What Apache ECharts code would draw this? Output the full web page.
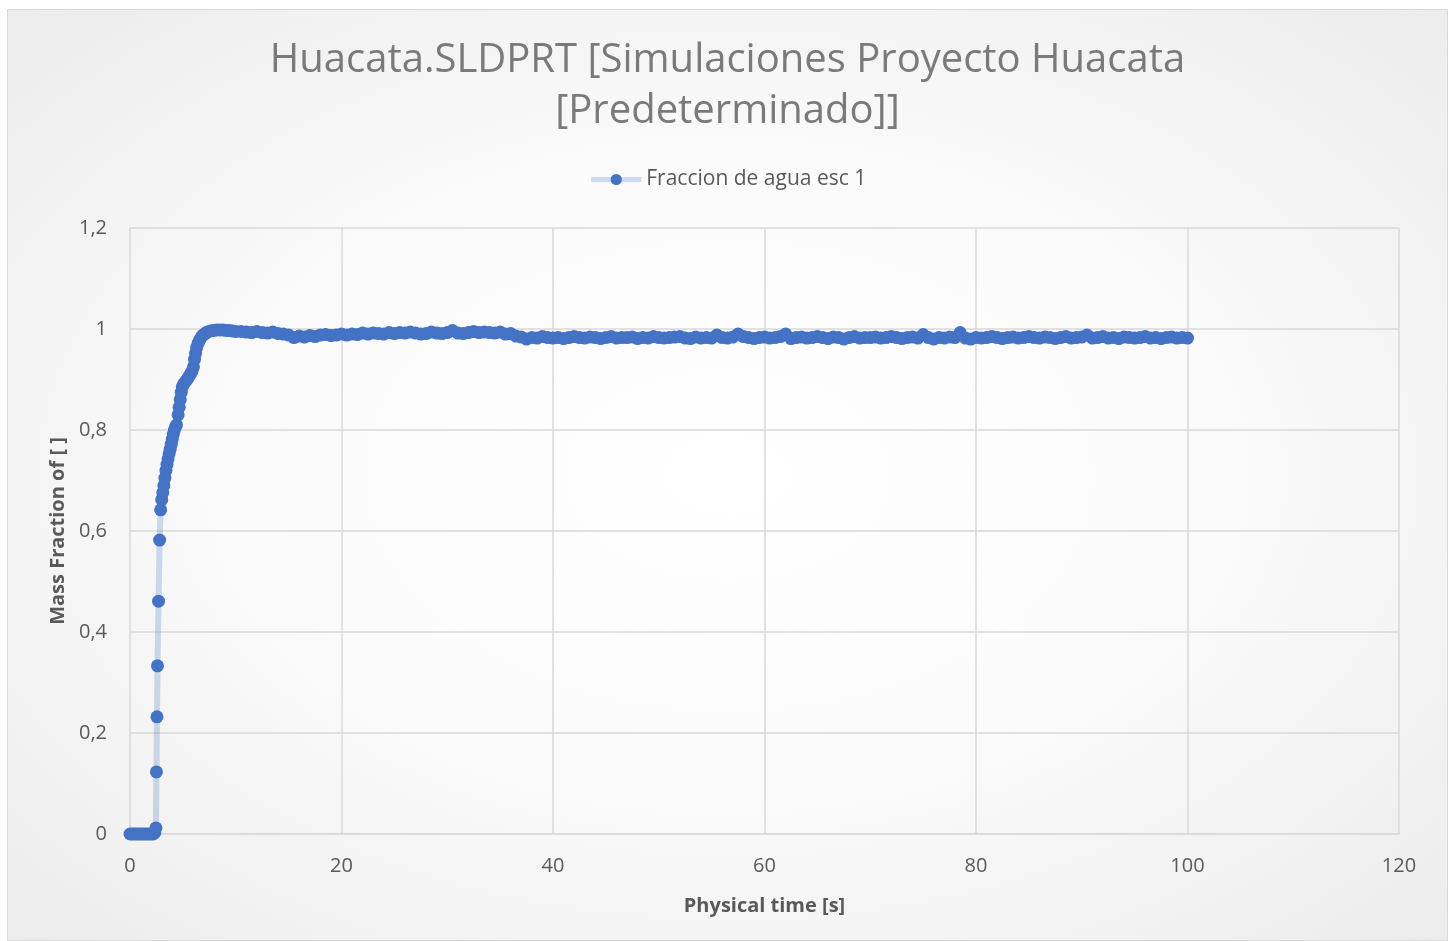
<!DOCTYPE html>
<html>
<head>
<meta charset="utf-8">
<script src="https://cdn.jsdelivr.net/npm/echarts@6/dist/echarts.min.js"></script>
<style>
  html, body { margin: 0; padding: 0; background: #fff; }
  #chart {
    position: absolute; left: 7px; top: 9px;
    width: 1441px; height: 932px; box-sizing: border-box;
    border: 1px solid #d9d9d9;
    background: radial-gradient(ellipse at center, #ffffff 0%, #fbfbfb 45%, #ececec 100%);
  }
</style>
</head>
<body>
<div id="chart"></div>
<script>
// start-up: zero, fast rise, approach to 1
const timeRise = [0, 0.2, 0.4, 0.6, 0.8, 1.0, 1.2, 1.4, 1.6, 1.8, 2.0, 2.2, 2.35, 2.45,
  2.5, 2.55, 2.6, 2.7, 2.8, 2.9, 3.0, 3.1, 3.2, 3.3, 3.4, 3.5, 3.6, 3.7, 3.8, 3.9,
  4.0, 4.1, 4.2, 4.3, 4.4, 4.55, 4.65, 4.75, 4.85, 4.95, 5.1, 5.25, 5.4, 5.55, 5.7,
  5.85, 6.0, 6.1, 6.2, 6.3, 6.45, 6.6, 6.75, 6.9, 7.1, 7.3, 7.6, 7.9, 8.2, 8.5, 8.8,
  9.1, 9.4, 9.7, 10];
const fracRise = [0, 0, 0, 0, 0, 0, 0, 0, 0, 0, 0, 0, 0.003, 0.012,
  0.123, 0.232, 0.333, 0.461, 0.582, 0.642, 0.662, 0.676, 0.69, 0.705, 0.72, 0.732, 0.743, 0.753, 0.762, 0.772,
  0.782, 0.792, 0.8, 0.806, 0.81, 0.83, 0.845, 0.86, 0.875, 0.886, 0.892, 0.896, 0.9, 0.905, 0.91,
  0.916, 0.925, 0.94, 0.952, 0.963, 0.972, 0.979, 0.984, 0.988, 0.991, 0.994, 0.996, 0.997, 0.998, 0.998, 0.998,
  0.997, 0.997, 0.996, 0.995];

// plateau, every 0.5 s
const timePlateau = [
  10.5, 11, 11.5, 12, 12.5, 13, 13.5, 14, 14.5, 15,
  15.5, 16, 16.5, 17, 17.5, 18, 18.5, 19, 19.5, 20,
  20.5, 21, 21.5, 22, 22.5, 23, 23.5, 24, 24.5, 25,
  25.5, 26, 26.5, 27, 27.5, 28, 28.5, 29, 29.5, 30,
  30.5, 31, 31.5, 32, 32.5, 33, 33.5, 34, 34.5, 35,
  35.5, 36, 36.5, 37, 37.5, 38, 38.5, 39, 39.5, 40,
  40.5, 41, 41.5, 42, 42.5, 43, 43.5, 44, 44.5, 45,
  45.5, 46, 46.5, 47, 47.5, 48, 48.5, 49, 49.5, 50,
  50.5, 51, 51.5, 52, 52.5, 53, 53.5, 54, 54.5, 55,
  55.5, 56, 56.5, 57, 57.5, 58, 58.5, 59, 59.5, 60,
  60.5, 61, 61.5, 62, 62.5, 63, 63.5, 64, 64.5, 65,
  65.5, 66, 66.5, 67, 67.5, 68, 68.5, 69, 69.5, 70,
  70.5, 71, 71.5, 72, 72.5, 73, 73.5, 74, 74.5, 75,
  75.5, 76, 76.5, 77, 77.5, 78, 78.5, 79, 79.5, 80,
  80.5, 81, 81.5, 82, 82.5, 83, 83.5, 84, 84.5, 85,
  85.5, 86, 86.5, 87, 87.5, 88, 88.5, 89, 89.5, 90,
  90.5, 91, 91.5, 92, 92.5, 93, 93.5, 94, 94.5, 95,
  95.5, 96, 96.5, 97, 97.5, 98, 98.5, 99, 99.5, 100];
const fracPlateau = [
  0.995, 0.994, 0.993, 0.995, 0.993, 0.992, 0.994, 0.991, 0.990, 0.988,
  0.983, 0.986, 0.984, 0.987, 0.985, 0.988, 0.989, 0.987, 0.988, 0.990,
  0.988, 0.990, 0.989, 0.992, 0.990, 0.992, 0.991, 0.990, 0.993, 0.991,
  0.993, 0.992, 0.994, 0.992, 0.990, 0.991, 0.994, 0.992, 0.991, 0.993,
  0.997, 0.992, 0.991, 0.993, 0.995, 0.993, 0.994, 0.993, 0.992, 0.994,
  0.990, 0.991, 0.986, 0.984, 0.980, 0.983, 0.982, 0.985, 0.983, 0.982,
  0.983, 0.981, 0.983, 0.985, 0.983, 0.982, 0.984, 0.983, 0.981, 0.983,
  0.985, 0.982, 0.983, 0.983, 0.984, 0.981, 0.983, 0.982, 0.985, 0.983,
  0.982, 0.983, 0.984, 0.985, 0.982, 0.981, 0.984, 0.982, 0.983, 0.982,
  0.988, 0.983, 0.982, 0.984, 0.990, 0.985, 0.983, 0.981, 0.983, 0.984,
  0.982, 0.983, 0.985, 0.990, 0.981, 0.983, 0.984, 0.982, 0.983, 0.985,
  0.983, 0.981, 0.984, 0.983, 0.980, 0.983, 0.985, 0.982, 0.983, 0.983,
  0.984, 0.982, 0.983, 0.985, 0.983, 0.981, 0.983, 0.984, 0.982, 0.989,
  0.983, 0.980, 0.983, 0.982, 0.984, 0.983, 0.993, 0.982, 0.980, 0.983,
  0.982, 0.983, 0.985, 0.983, 0.981, 0.983, 0.984, 0.982, 0.983, 0.985,
  0.983, 0.982, 0.984, 0.983, 0.981, 0.983, 0.985, 0.982, 0.983, 0.984,
  0.988, 0.982, 0.983, 0.985, 0.982, 0.983, 0.981, 0.984, 0.983, 0.982,
  0.983, 0.985, 0.982, 0.983, 0.981, 0.983, 0.984, 0.982, 0.983, 0.982];

const titleText = 'Huacata.SLDPRT [Simulaciones Proyecto Huacata\n[Predeterminado]]';
const seriesName = 'Fraccion de agua esc 1';

const points = timeRise.map((t, i) => [t, fracRise[i]])
  .concat(timePlateau.map((t, i) => [t, fracPlateau[i]]));

const axisText = { color: '#595959', fontSize: 20, fontFamily: 'Open Sans' };
const gridLine = { show: true, lineStyle: { color: '#d9d9d9', width: 1.5 } };

const chart = echarts.init(document.getElementById('chart'));
chart.setOption({
  animation: false,
  title: {
    text: titleText,
    left: 'center',
    top: 20,
    textStyle: {
      fontFamily: 'Open Sans', fontWeight: 'normal', fontSize: 40,
      color: '#7a7a7a', lineHeight: 51
    }
  },
  legend: {
    top: 154,
    left: 'center',
    itemWidth: 50,
    itemHeight: 14,
    itemGap: 6,
    lineStyle: { width: 5 },
    textStyle: { color: '#595959', fontSize: 21, fontFamily: 'Open Sans' },
    data: [seriesName]
  },
  grid: { left: 122, right: 48, top: 218, bottom: 106 },
  xAxis: {
    type: 'value', min: 0, max: 120, interval: 20,
    name: 'Physical time [s]', nameLocation: 'middle', nameGap: 62,
    nameTextStyle: { ...axisText, fontWeight: 'bold' },
    axisLine: { show: true, lineStyle: { color: '#d9d9d9', width: 1.5 } },
    axisTick: { show: false },
    axisLabel: { ...axisText, margin: 22 },
    splitLine: gridLine
  },
  yAxis: {
    type: 'value', min: 0, max: 1.2, interval: 0.2,
    name: 'Mass Fraction of [ ]', nameLocation: 'middle', nameGap: 62,
    nameTextStyle: { ...axisText, fontWeight: 'bold' },
    axisLine: { show: false },
    axisTick: { show: false },
    axisLabel: {
      ...axisText, margin: 23,
      formatter: (v) => String(+v.toFixed(1)).replace('.', ',')
    },
    splitLine: gridLine
  },
  series: [{
    name: seriesName,
    type: 'line',
    data: points,
    showAllSymbol: true,
    symbol: 'circle',
    symbolSize: 13,
    itemStyle: { color: '#4472C4' },
    lineStyle: { color: 'rgba(68,114,196,0.25)', width: 6 }
  }]
});
</script>
</body>
</html>
